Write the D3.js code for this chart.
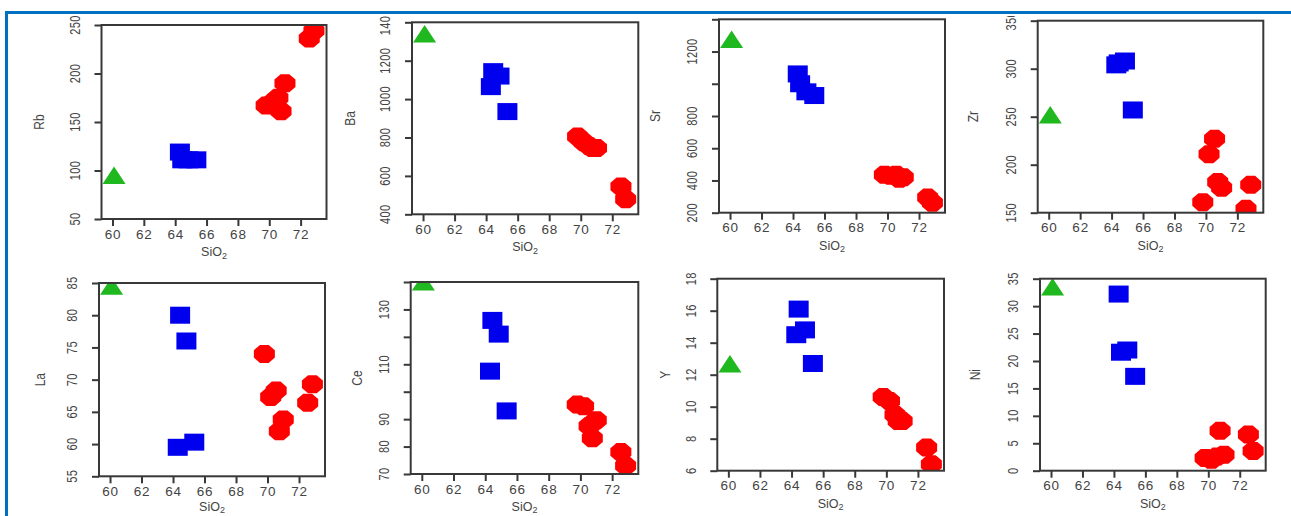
<!DOCTYPE html>
<html><head><meta charset="utf-8">
<script src="https://cdn.jsdelivr.net/npm/d3@7"></script>
<style>
html,body{margin:0;padding:0;background:#fff;}
svg{display:block;}
text{font-family:"Liberation Sans",Arial,sans-serif;fill:#444;}
</style></head>
<body>
<svg id="chart" width="1291" height="516"></svg>
<script>
// ---- data ----
const sio2Green = [60.1];
const sio2Blue  = [64.3, 64.45, 64.85, 65.35];
const sio2Red   = [69.8, 70.2, 70.55, 70.75, 71.0, 72.55, 72.85];
const sio2Ticks = [60, 62, 64, 66, 68, 70, 72];

const elements = ["Rb", "Ba", "Sr", "Zr", "La", "Ce", "Y", "Ni"];

const rbGreen = [92],   rbBlue = [119, 111, 111, 111],   rbRed = [167, 170, 175, 161, 190, 236, 244];
const baGreen = [1325], baBlue = [1065, 1143, 1120, 935], baRed = [805, 775, 755, 745, 745, 545, 478];
const srGreen = [1258], srBlue = [1061, 1000, 950, 927],  srRed = [435, 430, 435, 410, 420, 295, 262];
const zrGreen = [249],  zrBlue = [304, 306, 308, 257],    zrRed = [161, 211, 227, 182, 176, 154, 179];
const laGreen = [84.1], laBlue = [59.5, 80, 76, 60.3],    laRed = [74, 67.3, 68.3, 62, 63.8, 66.4, 69.3];
const ceGreen = [139],  ceBlue = [107.5, 126, 121, 93],   ceRed = [95.3, 94.7, 87.5, 83, 89.6, 78, 73];
const yGreen  = [12.5], yBlue  = [14.5, 16.1, 14.8, 12.7], yRed  = [10.6, 10.35, 9.5, 9.1, 9.1, 7.45, 6.4];
const niGreen = [33],   niBlue = [32.2, 21.6, 22.0, 17.2], niRed = [2.3, 2.0, 2.6, 7.3, 2.9, 6.6, 3.6];

const rbTicks = [50, 100, 150, 200, 250],            rbLabels = [50, 100, 150, 200, 250];
const baTicks = [400, 600, 800, 1000, 1200, 1400],   baLabels = [400, 600, 800, 1000, 1200, 1400];
const srTicks = [200, 400, 600, 800, 1000, 1200, 1400], srLabels = [200, 400, 600, 800, 1200];
const zrTicks = [150, 200, 250, 300, 350],           zrLabels = [150, 200, 250, 300, 350];
const laTicks = [55, 60, 65, 70, 75, 80, 85],        laLabels = [55, 60, 65, 70, 75, 80, 85];
const ceTicks = [70, 80, 90, 100, 110, 120, 130, 140], ceLabels = [70, 80, 90, 110, 130];
const yTicks  = [6, 8, 10, 12, 14, 16, 18],          yLabels  = [6, 8, 10, 12, 14, 16, 18];
const niTicks = [0, 5, 10, 15, 20, 25, 30, 35],      niLabels = [0, 5, 10, 15, 20, 25, 30, 35];

const rbDomain = [50, 250], baDomain = [400, 1400], srDomain = [200, 1400], zrDomain = [150, 350];
const laDomain = [55, 85],  ceDomain = [70, 140],   yDomain  = [6, 18],     niDomain = [0, 35];
const sio2Domain = [59.3, 73.65];

// ---- layout (positions/sizes) ----
const boxes = [
  {x:101.5, y:25,    w:225,   h:194,  tOff:62},
  {x:412,   y:22.3,  w:226.3, h:192,  tOff:62},
  {x:719,   y:19.3,  w:226,   h:193.4,tOff:64},
  {x:1037.7,y:20.7,  w:225.6, h:192,  tOff:65},
  {x:99,    y:283,   w:226,   h:193.3,tOff:59},
  {x:410.7, y:282,   w:227.6, h:192,  tOff:54},
  {x:717.3, y:278.7, w:226.7, h:192,  tOff:52},
  {x:1040,  y:278.7, w:225.7, h:192,  tOff:65}
];

const panels = [
  {name:elements[0], g:rbGreen, b:rbBlue, r:rbRed, ticks:rbTicks, labels:rbLabels, dom:rbDomain},
  {name:elements[1], g:baGreen, b:baBlue, r:baRed, ticks:baTicks, labels:baLabels, dom:baDomain},
  {name:elements[2], g:srGreen, b:srBlue, r:srRed, ticks:srTicks, labels:srLabels, dom:srDomain},
  {name:elements[3], g:zrGreen, b:zrBlue, r:zrRed, ticks:zrTicks, labels:zrLabels, dom:zrDomain},
  {name:elements[4], g:laGreen, b:laBlue, r:laRed, ticks:laTicks, labels:laLabels, dom:laDomain},
  {name:elements[5], g:ceGreen, b:ceBlue, r:ceRed, ticks:ceTicks, labels:ceLabels, dom:ceDomain},
  {name:elements[6], g:yGreen,  b:yBlue,  r:yRed,  ticks:yTicks,  labels:yLabels,  dom:yDomain},
  {name:elements[7], g:niGreen, b:niBlue, r:niRed, ticks:niTicks, labels:niLabels, dom:niDomain}
];

const GREEN = "#1fb81f", BLUE = "#0000ee", RED = "#ff0000", AXIS = "#383838", TXT = "#474747";
const svg = d3.select("#chart");
const defs = svg.append("defs");

const sqW = 20, sqH = 17;        // square marker
const ocRx = 10.5, ocRy = 9;     // octagon marker
const trW = 23, trH = 17.5;      // triangle marker

function octagon(cx, cy) {
  const pts = [];
  for (let k = 0; k < 8; k++) {
    const a = Math.PI / 8 + k * Math.PI / 4;
    pts.push([cx + ocRx * Math.cos(a) / Math.cos(Math.PI / 8), cy + ocRy * Math.sin(a) / Math.cos(Math.PI / 8)]);
  }
  return "M" + pts.map(p => p.join(",")).join("L") + "Z";
}

panels.forEach((p, i) => {
  const bx = boxes[i];
  const x = d3.scaleLinear().domain(sio2Domain).range([bx.x, bx.x + bx.w]);
  const y = d3.scaleLinear().domain(p.dom).range([bx.y + bx.h, bx.y]);
  const g = svg.append("g");

  defs.append("clipPath").attr("id", "clip" + i)
    .append("rect").attr("x", bx.x).attr("y", bx.y).attr("width", bx.w).attr("height", bx.h);

  const pts = g.append("g").attr("clip-path", "url(#clip" + i + ")");
  pts.selectAll("path.red").data(sio2Red.map((s, k) => [s, p.r[k]])).join("path")
    .attr("class", "red").attr("fill", RED)
    .attr("d", d => octagon(x(d[0]), y(d[1])));
  pts.selectAll("rect.blue").data(sio2Blue.map((s, k) => [s, p.b[k]])).join("rect")
    .attr("class", "blue").attr("fill", BLUE)
    .attr("x", d => x(d[0]) - sqW / 2).attr("y", d => y(d[1]) - sqH / 2)
    .attr("width", sqW).attr("height", sqH);
  pts.selectAll("path.green").data(sio2Green.map((s, k) => [s, p.g[k]])).join("path")
    .attr("class", "green").attr("fill", GREEN)
    .attr("d", d => {
      const cx = x(d[0]), cy = y(d[1]);
      return `M${cx},${cy - 2 * trH / 3}L${cx + trW / 2},${cy + trH / 3}L${cx - trW / 2},${cy + trH / 3}Z`;
    });

  g.append("rect").attr("x", bx.x).attr("y", bx.y).attr("width", bx.w).attr("height", bx.h)
    .attr("fill", "none").attr("stroke", AXIS).attr("stroke-width", 2);

  const xa = g.append("g").attr("transform", `translate(0,${bx.y + bx.h})`)
    .call(d3.axisBottom(x).tickValues(sio2Ticks).tickSize(7).tickPadding(3).tickFormat(d3.format("d")));
  xa.select(".domain").remove();
  xa.selectAll(".tick line").attr("stroke", AXIS).attr("stroke-width", 2);
  xa.selectAll(".tick text").attr("font-size", 13.5).attr("fill", TXT).attr("letter-spacing", 0.8);

  const ya = g.append("g").attr("transform", `translate(${bx.x},0)`)
    .call(d3.axisLeft(y).tickValues(p.ticks).tickSize(7).tickFormat(""));
  ya.select(".domain").remove();
  ya.selectAll(".tick line").attr("stroke", AXIS).attr("stroke-width", 2);
  g.selectAll("text.ylab").data(p.labels).join("text").attr("class", "ylab")
    .attr("transform", d => `translate(${bx.x - 26},${y(d)}) rotate(-90) scale(1,1.25)`)
    .attr("text-anchor", "middle").attr("dominant-baseline", "central")
    .attr("font-size", 11).attr("fill", TXT).attr("letter-spacing", 0.4)
    .text(d => d);

  g.append("text").attr("transform", `translate(${bx.x - bx.tOff},${bx.y + bx.h / 2}) rotate(-90) scale(1,1.15)`)
    .attr("text-anchor", "middle").attr("dominant-baseline", "central")
    .attr("font-size", 12).attr("fill", TXT).text(p.name);

  const xt = g.append("text").attr("x", bx.x + bx.w / 2).attr("y", Math.min(bx.y + bx.h + 37, 510.5))
    .attr("text-anchor", "middle").attr("font-size", 12.5).attr("fill", TXT);
  xt.append("tspan").text("SiO");
  xt.append("tspan").attr("font-size", 9).attr("dy", 2.5).text("2");
});

// picture crop & frame
svg.append("rect").attr("x", 0).attr("y", 0).attr("width", 1291).attr("height", 16).attr("fill", "#fff");
svg.append("rect").attr("x", 5).attr("y", 11).attr("width", 1286).attr("height", 3).attr("fill", "#0070c0");
svg.append("rect").attr("x", 5).attr("y", 11).attr("width", 3).attr("height", 505).attr("fill", "#0070c0");
</script>
</body></html>
